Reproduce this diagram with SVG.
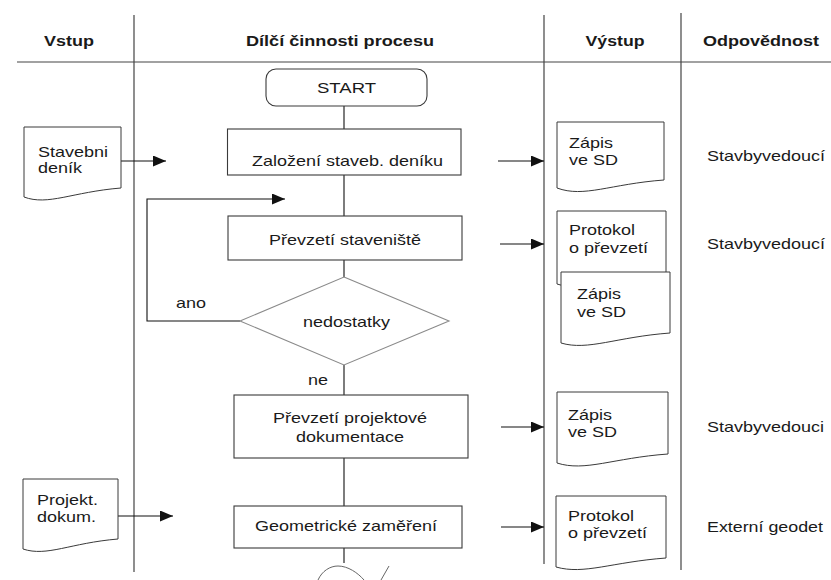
<svg xmlns="http://www.w3.org/2000/svg" width="831" height="580" viewBox="0 0 831 580">
  <style>
    text { font-family: "Liberation Sans", Arial, sans-serif; font-size: 15px; fill: #1a1a1a; }
    .hd { font-weight: bold; font-size: 15px; text-anchor: middle; }
    .mid { text-anchor: middle; }
    .grid { stroke: #444; stroke-width: 1.2; fill: none; }
    .box { fill: #fff; stroke: #3a3a3a; stroke-width: 1.1; }
    .doc { fill: #fff; stroke: #3a3a3a; stroke-width: 1; }
    .dia { fill: #fff; stroke: #8a8a8a; stroke-width: 1.1; }
    .con { stroke: #111; stroke-width: 1.1; fill: none; }
    .arr { stroke: #111; stroke-width: 1.1; fill: none; marker-end: url(#head); }
  </style>
  <defs>
    <marker id="head" markerUnits="userSpaceOnUse" markerWidth="14" markerHeight="12" refX="13" refY="5.5" orient="auto">
      <path d="M0,0 L13,5.5 L0,11 Z" fill="#111"/>
    </marker>
  </defs>

  <rect width="831" height="580" fill="#fff"/>

  <!-- swimlane grid -->
  <g id="grid">
    <line class="grid" x1="17" y1="62" x2="831" y2="62"/>
    <line class="grid" x1="134" y1="15" x2="134" y2="572"/>
    <line class="grid" x1="544" y1="15" x2="544" y2="564"/>
    <line class="grid" x1="681" y1="13" x2="681" y2="570"/>
    <text class="hd" x="69" y="46" textLength="50" lengthAdjust="spacingAndGlyphs">Vstup</text>
    <text class="hd" x="340" y="46" textLength="188" lengthAdjust="spacingAndGlyphs">Dílčí činnosti procesu</text>
    <text class="hd" x="615" y="46" textLength="59" lengthAdjust="spacingAndGlyphs">Výstup</text>
    <text class="hd" x="761" y="46" textLength="116" lengthAdjust="spacingAndGlyphs">Odpovědnost</text>
  </g>

  <!-- connectors -->
  <g id="connectors">
    <line class="con" x1="344" y1="106" x2="344" y2="129"/>
    <line class="con" x1="344" y1="175" x2="344" y2="216"/>
    <line class="con" x1="344" y1="260" x2="344" y2="277"/>
    <line class="con" x1="344" y1="365" x2="344" y2="395"/>
    <line class="con" x1="344" y1="458" x2="344" y2="506"/>
    <line class="con" x1="344" y1="548" x2="344" y2="563"/>
    <path class="arr" d="M240,321 H147 V199 H285"/>
    <line class="arr" x1="121" y1="161" x2="166" y2="161"/>
    <line class="arr" x1="118" y1="516" x2="173" y2="516"/>
    <line class="arr" x1="498" y1="161" x2="544" y2="161"/>
    <line class="arr" x1="500" y1="244" x2="544" y2="244"/>
    <line class="arr" x1="501" y1="427" x2="544" y2="427"/>
    <line class="arr" x1="501" y1="527" x2="544" y2="527"/>
    <text x="176" y="308" textLength="30" lengthAdjust="spacingAndGlyphs">ano</text>
    <text x="308" y="385" textLength="20" lengthAdjust="spacingAndGlyphs">ne</text>
    <path d="M318,580 C322,571 330,566 338,566 C348,566 358,573 364,580 M389,566 L381,580" fill="none" stroke="#666" stroke-width="1"/>
  </g>

  <!-- process steps -->
  <g id="start">
    <rect class="box" x="266" y="69" width="161" height="37" rx="10"/>
    <text class="mid" x="346.5" y="93" textLength="59" lengthAdjust="spacingAndGlyphs">START</text>
  </g>
  <g id="zalozeni">
    <rect class="box" x="227.5" y="129" width="233.5" height="46"/>
    <text x="252" y="166" textLength="191" lengthAdjust="spacingAndGlyphs">Založení staveb. deníku</text>
  </g>
  <g id="prevzeti-staveniste">
    <rect class="box" x="228" y="216" width="234" height="44"/>
    <text class="mid" x="345" y="245" textLength="152" lengthAdjust="spacingAndGlyphs">Převzetí staveniště</text>
  </g>
  <g id="nedostatky">
    <polygon class="dia" points="344,277 449,321 344,365 240,321"/>
    <text class="mid" x="346.5" y="327" textLength="87" lengthAdjust="spacingAndGlyphs">nedostatky</text>
  </g>
  <g id="prevzeti-projektu">
    <rect class="box" x="234" y="395" width="234" height="63"/>
    <text class="mid" x="350" y="423" textLength="154" lengthAdjust="spacingAndGlyphs">Převzetí projektové</text>
    <text class="mid" x="350" y="442" textLength="108" lengthAdjust="spacingAndGlyphs">dokumentace</text>
  </g>
  <g id="zamereni">
    <rect class="box" x="234" y="506" width="228" height="42"/>
    <text x="255" y="531" textLength="182" lengthAdjust="spacingAndGlyphs">Geometrické zaměření</text>
  </g>

  <!-- inputs -->
  <g id="vstup-denik">
    <path class="doc" d="M24,127 H121 V188 C72,192 48,206 24,197 Z"/>
    <text x="38" y="157" textLength="70" lengthAdjust="spacingAndGlyphs">Stavebni</text>
    <text x="38" y="173" textLength="44" lengthAdjust="spacingAndGlyphs">deník</text>
  </g>
  <g id="vstup-projekt">
    <path class="doc" d="M23,479 H118 V539 C70,543 47,557 23,549 Z"/>
    <text x="37" y="505" textLength="61" lengthAdjust="spacingAndGlyphs">Projekt.</text>
    <text x="37" y="522" textLength="59" lengthAdjust="spacingAndGlyphs">dokum.</text>
  </g>

  <!-- outputs -->
  <g id="vystup-zapis-1">
    <path class="doc" d="M557,122 H664 V180 C610,184 584,198 557,188 Z"/>
    <text x="569" y="148" textLength="44" lengthAdjust="spacingAndGlyphs">Zápis</text>
    <text x="569" y="165" textLength="49" lengthAdjust="spacingAndGlyphs">ve SD</text>
  </g>
  <g id="vystup-protokol-1">
    <path class="doc" d="M557,211 H666 V276 C612,280 584,293 557,284 Z"/>
    <text x="569" y="235" textLength="66" lengthAdjust="spacingAndGlyphs">Protokol</text>
    <text x="569" y="253" textLength="79" lengthAdjust="spacingAndGlyphs">o převzetí</text>
  </g>
  <g id="vystup-zapis-2">
    <path class="doc" d="M561,272 H670 V333 C616,337 588,351 561,343 Z"/>
    <text x="577" y="299" textLength="44" lengthAdjust="spacingAndGlyphs">Zápis</text>
    <text x="577" y="317" textLength="49" lengthAdjust="spacingAndGlyphs">ve SD</text>
  </g>
  <g id="vystup-zapis-3">
    <path class="doc" d="M557,392 H668 V454 C613,458 585,472 557,463 Z"/>
    <text x="568" y="420" textLength="44" lengthAdjust="spacingAndGlyphs">Zápis</text>
    <text x="568" y="437" textLength="49" lengthAdjust="spacingAndGlyphs">ve SD</text>
  </g>
  <g id="vystup-protokol-2">
    <path class="doc" d="M556,496 H666 V558 C612,562 584,575 556,567 Z"/>
    <text x="568" y="521" textLength="66" lengthAdjust="spacingAndGlyphs">Protokol</text>
    <text x="568" y="538" textLength="79" lengthAdjust="spacingAndGlyphs">o převzetí</text>
  </g>

  <!-- responsibility -->
  <g id="odpovednost">
    <text x="707" y="161" textLength="118" lengthAdjust="spacingAndGlyphs">Stavbyvedoucí</text>
    <text x="707" y="249" textLength="118" lengthAdjust="spacingAndGlyphs">Stavbyvedoucí</text>
    <text x="707" y="432" textLength="117" lengthAdjust="spacingAndGlyphs">Stavbyvedouci</text>
    <text x="707" y="532" textLength="116" lengthAdjust="spacingAndGlyphs">Externí geodet</text>
  </g>
</svg>
